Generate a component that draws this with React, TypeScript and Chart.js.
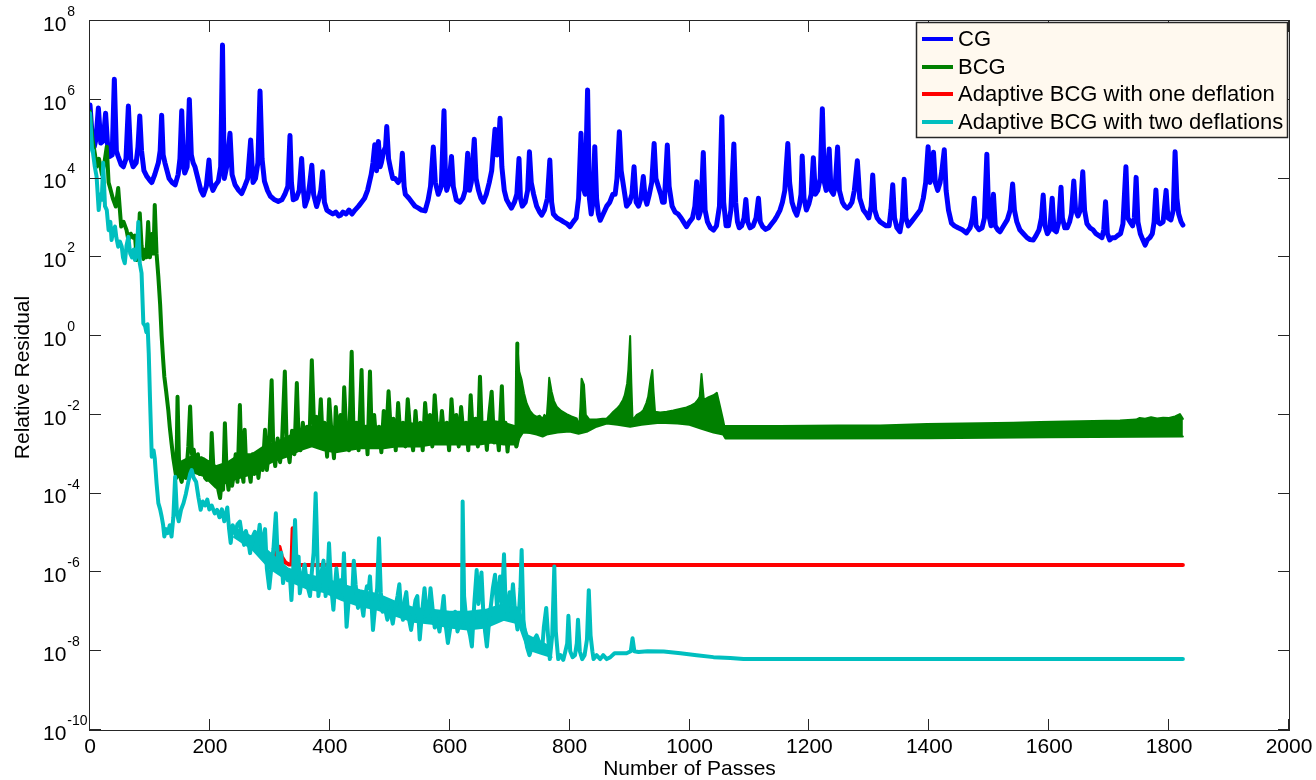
import { useEffect, useRef } from 'react';
import { Chart, registerables } from 'chart.js';
Chart.register(...registerables);

// [number of passes, log10(relative residual)]
const cgPoints: [number, number][] = [
  [0,5.87],[3,5.2],[7,4.8],[10,5.0],[14,5.79],[18,4.9],[22,4.95],[26,5.66],[30,4.7],[33,4.56],[37,4.6],[40.6,6.52],[44,4.7],[47,4.56],[52,4.35],[55.6,4.3],[60,4.5],[64,5.84],[68,4.5],[72,4.3],[77,4.4],[80,4.8],[83,5.59],[86,4.7],[90,4.2],[95,4.05],[100,3.95],[103,3.9],[108,4.1],[114,4.4],[117,4.7],[119.5,5.61],[122,4.6],[125,4.4],[132,4.0],[137,3.9],[142,3.84],[147,4.1],[150,4.5],[153,5.72],[156,4.3],[158,4.14],[162,4.3],[165.7,6.01],[169,4.6],[172,4.4],[175,4.3],[180,4.0],[185,3.7],[189,3.58],[194,3.8],[198.5,4.47],[201,3.9],[205,3.7],[210,3.85],[214,3.93],[218,4.3],[221,7.39],[224,4.0],[228,4.3],[233.5,5.15],[237,4.1],[242,3.84],[248,3.7],[253,3.62],[258,3.8],[263,4.0],[268,4.98],[272,3.9],[276,4.0],[280,4.4],[283.6,6.22],[287,4.5],[291,3.93],[296,3.7],[301,3.55],[308,3.46],[314,3.42],[320,3.46],[325,3.6],[330,3.8],[333.6,5.09],[336,3.9],[339,3.46],[344,3.5],[349,3.7],[353,4.51],[356,3.7],[358.5,3.3],[363,3.5],[366,3.8],[370,4.34],[373,3.6],[378,3.29],[382,3.5],[385,3.7],[388,4.17],[391,3.4],[395,3.2],[400,3.15],[405,3.1],[410,3.15],[415,3.05],[418,3.07],[422,3.15],[427,3.1],[432,3.2],[437,3.1],[442,3.2],[448,3.3],[453,3.4],[458,3.5],[463,3.7],[469,4.1],[472,4.4],[475,4.86],[478,4.2],[481,4.94],[484,4.3],[486,4.4],[490,4.7],[493,4.8],[495,5.32],[498,4.5],[502,4.2],[505,4.0],[509,4.0],[514,3.9],[518,4.0],[521,4.64],[524,3.8],[526,3.6],[532,3.5],[537,3.4],[542,3.3],[548,3.25],[553,3.2],[559,3.18],[564,3.46],[568,3.8],[572.7,4.8],[576,3.9],[581,3.6],[586,3.8],[590.5,5.72],[593,4.0],[595,3.7],[599,3.9],[603,4.56],[606,3.8],[611,3.46],[617,3.4],[622,3.5],[626,3.7],[630,4.64],[633,3.7],[636,3.9],[641,5.0],[644,4.0],[648,3.7],[652,3.5],[656,3.4],[661,3.6],[666,3.9],[670,4.2],[675.6,5.25],[679,4.6],[681,4.7],[684,5.53],[687,4.3],[691,3.7],[695,3.46],[699,3.35],[703,3.25],[708,3.4],[712,3.6],[715.6,4.51],[718,3.5],[721,3.3],[726,3.4],[730,3.7],[733,4.68],[736,3.9],[740,3.6],[745,3.3],[750,3.15],[753.5,3.07],[758,3.2],[763,3.5],[767,4.47],[770,3.4],[773,3.1],[779,3.0],[785,2.95],[790,2.9],[796,2.85],[800.7,2.78],[806,2.9],[811,3.0],[815,3.5],[819,5.15],[822,3.8],[826,3.6],[830,6.25],[833,3.5],[836,3.1],[839,3.4],[842,4.81],[845,3.5],[848,3.1],[851,2.94],[856,3.1],[862,3.3],[867,3.4],[872,3.6],[876,3.6],[879,4.0],[883,5.19],[886,4.2],[890,3.8],[895,3.3],[900,3.4],[904,3.6],[907.5,4.3],[911,3.4],[915,3.3],[919,3.5],[923,4.05],[926,3.5],[929,3.35],[933,3.6],[937,3.9],[941,4.89],[944,4.0],[948,3.8],[952,3.6],[955,3.4],[958,3.4],[963,4.85],[966,3.8],[971,3.3],[976,3.15],[981,3.1],[986,3.0],[990,2.9],[995,2.78],[1000,2.9],[1005,3.0],[1009,3.3],[1012,3.92],[1015,3.0],[1019,3.2],[1023,4.66],[1026,3.2],[1030,2.9],[1035,2.75],[1040,2.69],[1045,2.8],[1050,3.3],[1054,5.57],[1057,3.4],[1061,2.8],[1065,2.8],[1069,3.2],[1074,4.88],[1077,3.4],[1080,2.9],[1083,2.75],[1087,2.8],[1091,3.0],[1094,3.47],[1097,2.9],[1101,2.75],[1106,2.8],[1111,3.0],[1115,3.5],[1118,2.9],[1122,2.78],[1127,2.71],[1132,2.75],[1137,2.85],[1142,2.95],[1146,3.05],[1151,3.2],[1155,3.4],[1159,3.7],[1161,4.2],[1164,4.89],[1167,3.9],[1171,3.4],[1175,3.2],[1179,3.07],[1183,3.3],[1186,3.6],[1188,4.57],[1191,3.5],[1195,3.2],[1199,3.35],[1203,3.6],[1206.6,4.53],[1210,3.6],[1214,3.7],[1218,4.0],[1221.6,5.77],[1225,3.9],[1228,3.7],[1233,4.75],[1236,3.7],[1240,3.6],[1243,3.8],[1247,4.8],[1250,3.7],[1255,3.4],[1259,3.3],[1263,3.25],[1267,3.3],[1271,3.4],[1275,3.7],[1280,4.45],[1284,3.5],[1290,3.2],[1295,3.1],[1299,3.0],[1303,3.3],[1305.6,4.09],[1309,3.2],[1313,3.0],[1318,2.9],[1323,2.85],[1328,2.8],[1333,2.8],[1336,3.2],[1339,3.84],[1342,3.0],[1346,2.75],[1351,2.65],[1355,3.0],[1358,3.98],[1361,3.0],[1365,2.8],[1370,2.9],[1375,3.0],[1380,3.1],[1385,3.2],[1390,3.5],[1394,3.9],[1398,4.81],[1401,3.9],[1403,4.0],[1407,4.67],[1410,3.9],[1414,3.7],[1418,3.9],[1421,4.2],[1425,4.73],[1428,3.7],[1432,3.2],[1437,2.87],[1442,2.8],[1448,2.75],[1455,2.7],[1462,2.62],[1468,2.75],[1472,3.0],[1475,3.5],[1478,2.8],[1483,2.7],[1488,2.75],[1492,3.0],[1496,4.62],[1499,3.1],[1503,2.8],[1507,3.6],[1510,2.8],[1514,2.7],[1518,2.65],[1524,2.8],[1530,2.95],[1535,3.2],[1539,3.86],[1542,3.2],[1546,2.9],[1551,2.7],[1557,2.6],[1563,2.5],[1568,2.45],[1573.5,2.44],[1578,2.55],[1583,2.7],[1587,3.0],[1590,3.58],[1593,2.8],[1597,2.6],[1601,2.7],[1605,3.5],[1608,2.7],[1612,2.65],[1616,2.9],[1619.7,3.78],[1622,3.0],[1626,2.75],[1630,2.75],[1634,2.9],[1637,3.1],[1641,3.94],[1644,3.2],[1648,3.05],[1652,3.2],[1656,4.17],[1659,3.2],[1663,2.85],[1668,2.75],[1673,2.7],[1678,2.6],[1683,2.55],[1688,2.5],[1691,2.7],[1694,3.41],[1697,2.6],[1701,2.44],[1705,2.5],[1710,2.5],[1714,2.55],[1719,2.6],[1723,2.85],[1728,4.3],[1731,3.0],[1735,2.9],[1739,2.8],[1742,3.0],[1745,4.03],[1748,2.9],[1752,2.6],[1756,2.45],[1760,2.31],[1764,2.45],[1768,2.5],[1772,2.6],[1775,2.9],[1778,3.71],[1781,2.9],[1785,2.85],[1790,2.9],[1795,3.7],[1798,3.0],[1803,2.95],[1807,3.2],[1810,4.68],[1813,3.5],[1816,3.1],[1820,2.9],[1823,2.82]
];

const bcgPoints: [number, number][] = [
  [0,5.7],[4,5.0],[8,4.64],[11,4.3],[15,4.5],[20,4.1],[24,4.4],[28,4.81],[31,3.9],[33,3.79],[38,3.5],[43,3.29],[47,3.76],[52,2.78],[56,2.9],[61,2.69],[64,2.44],[68,2.6],[72,2.5],[75,2.55],[78,1.93],[81,2.4],[83,3.12],[86,2.3],[89,1.96],[92,2.2],[94,2.0],[97,2.9],[100,2.0],[104,2.6],[106,2.1],[108,3.33],[111,2.1],[114,1.51],[117,0.8],[119.5,0.0],[122,-0.6],[124,-1.03],[127,-1.4],[130.6,-1.88],[133,-2.3],[136,-2.72],[139,-3.1],[142,-3.4],[144,-3.6],
  [146,-1.54],[149,-3.5],[153,-3.7],[157,-3.2],[160,-3.6],[164,-2.8],[167,-1.79],[170,-3.0],[173,-2.88],[176,-3.3],[180,-3.0],[183,-3.5],[186,-3.1],[189,-3.3],[192,-3.6],[195,-3.65],[198,-3.2],[201,-3.5],[203,-2.46],[206,-3.4],[209,-3.7],[213,-3.82],[217,-4.11],[220,-3.6],[222,-3.9],[225,-2.21],[228,-3.5],[231,-3.9],[234,-3.3],[237,-3.8],[240,-3.5],[243,-3.0],[246,-3.7],[250,-1.75],[253,-3.4],[256,-3.7],[258,-2.38],[261,-3.5],[264,-3.3],[268,-3.7],[271,-3.0],[274,-3.5],[278,-3.2],[281,-3.6],[285,-3.0],[288,-3.4],[292,-2.38],[295,-3.4],[298,-3.0],[303,-1.12],[306,-3.0],[309,-3.3],[313,-2.6],[317,-3.2],[320,-2.8],[325,-0.9],[328,-2.7],[333,-3.2],[337,-2.4],[341,-3.0],[345,-1.19],[348,-2.6],[351,-2.9],[355,-2.2],[359,-2.8],[362,-2.3],[366,-2.7],[370,-0.61],[374,-2.4],[378,-2.05],[381,-2.7],[385,-1.6],[388,-2.6],[391,-2.2],[395.5,-3.06],[399,-1.6],[403,-2.5],[407,-3.1],[410,-1.8],[414,-2.6],[418,-2.0],[421,-2.8],[424,-1.3],[428,-2.6],[432,-2.9],[436.5,-0.4],[440,-2.7],[444,-2.2],[448,-2.9],[453,-0.86],[456,-2.7],[460,-2.3],[463,-3.0],[467,-0.9],[470,-2.6],[474,-2.0],[478,-2.8],[482,-2.3],[486,-2.95],[490,-1.9],[494,-2.6],[498,-1.4],[502,-2.5],[506,-2.1],[510,-2.9],[514,-1.7],[518,-2.6],[522,-2.2],[526,-2.8],[530,-1.6],[534,-2.4],[539,-2.9],[543,-1.9],[547,-2.7],[551,-2.2],[555,-2.9],[559,-1.7],[563,-2.5],[567,-2.0],[571,-2.8],[575,-1.5],[579,-2.4],[583,-2.7],[587,-1.9],[591,-2.6],[595,-2.2],[599,-2.9],[603,-1.6],[607,-2.5],[611,-2.0],[615,-2.8],[619,-1.8],[623,-2.5],[627,-2.2],[631,-2.9],[635,-1.5],[639,-2.6],[643,-2.1],[647,-2.8],[650.5,-1.03],[654,-2.6],[658,-2.2],[662,-2.89],[666,-2.0],[670,-1.41],[674,-2.7],[678,-2.3],[682,-2.9],[687,-1.27],[690,-2.6],[693,-2.2],[696.5,-2.93],[700,-2.3],[704,-2.7],[708,-2.4],[711,-2.8],[712.8,-0.19]
];

// dense noisy body of BCG between 150 and 712 passes: upper and lower envelope
const bcgNoiseTop: [number, number][] = [
  [150,-3.2],[170,-3.05],[190,-3.1],[210,-3.3],[230,-3.2],[250,-3.0],[270,-3.0],[290,-2.8],[310,-2.7],[330,-2.55],[350,-2.4],[370,-2.3],[390,-2.3],[410,-2.3],[430,-2.3],[450,-2.35],[470,-2.3],[490,-2.3],[510,-2.25],[530,-2.2],[550,-2.25],[570,-2.2],[590,-2.2],[610,-2.25],[630,-2.2],[650,-2.2],[670,-2.15],[690,-2.2],[712,-2.3]
];
const bcgNoiseBottom: [number, number][] = [
  [150,-3.6],[170,-3.45],[190,-3.55],[210,-3.85],[230,-3.7],[250,-3.6],[270,-3.5],[290,-3.3],[310,-3.15],[330,-3.05],[350,-2.9],[370,-2.8],[390,-2.9],[410,-2.95],[430,-2.9],[450,-2.85],[470,-2.85],[490,-2.85],[510,-2.8],[530,-2.8],[550,-2.8],[570,-2.75],[590,-2.75],[610,-2.75],[630,-2.75],[650,-2.75],[670,-2.7],[690,-2.75],[712,-2.75]
];

// dense oscillating part of BCG after 712 passes: upper and lower envelope
const bcgBandTop: [number, number][] = [
  [712.8,-0.19],[716,-0.9],[720,-1.11],[724,-1.45],[728.4,-1.71],[734,-1.9],[739.5,-2.0],[745,-2.05],[750,-2.02],[755,-2.1],[758,-2.0],[761.8,-2.08],[764,-1.6],[766,-1.06],[770,-1.41],[774,-1.65],[778.5,-1.79],[786,-1.9],[795,-1.98],[803,-2.04],[812,-2.09],[816,-2.3],[818,-1.8],[820,-1.08],[824,-1.24],[827,-2.0],[833,-2.12],[845,-2.12],[855,-2.1],[862,-2.09],[868,-2.0],[873,-1.92],[879,-1.84],[884,-1.75],[889,-1.62],[892,-1.5],[896,-1.2],[898,-0.86],[901,0.0],[903,-1.2],[905,-2.13],[912,-2.0],[918,-1.95],[923,-1.88],[928,-1.7],[931,-1.54],[935,-1.11],[938,-0.86],[940,-1.4],[942.5,-1.92],[951,-1.94],[962,-1.92],[973,-1.89],[984,-1.85],[995,-1.81],[1003,-1.76],[1009,-1.71],[1014,-1.62],[1017,-1.54],[1020,-0.96],[1022,-1.3],[1024,-1.62],[1032,-1.55],[1040,-1.5],[1045.6,-1.44],[1051,-1.79],[1056,-2.13],[1058,-2.28],[1150,-2.28],[1248,-2.27],[1318,-2.27],[1396,-2.23],[1484.6,-2.21],[1540,-2.2],[1585,-2.18],[1651,-2.16],[1718,-2.14],[1745,-2.12],[1751,-2.08],[1760,-2.1],[1770,-2.06],[1780,-2.09],[1790,-2.07],[1800,-2.08],[1810,-2.04],[1818,-1.98],[1823,-2.1]
];
const bcgBandBottom: [number, number][] = [
  [712.8,-2.8],[716,-2.6],[722,-2.45],[734,-2.46],[745,-2.5],[755,-2.55],[761.8,-2.5],[780,-2.45],[800,-2.42],[815,-2.48],[830,-2.42],[845,-2.3],[862,-2.22],[880,-2.25],[901,-2.3],[920,-2.25],[950,-2.2],[980,-2.22],[1000,-2.25],[1020,-2.35],[1040,-2.45],[1056,-2.5],[1060,-2.6],[1200,-2.6],[1400,-2.59],[1600,-2.57],[1823,-2.55]
];

const oneDeflationPoints: [number, number][] = [
  [295,-5.5],[299,-5.6],[303,-5.55],[306,-5.8],[310,-5.5],[313,-5.45],[316,-5.35],[320,-5.6],[326,-5.75],[332,-5.8],[336,-5.8],[338,-4.88],[340,-5.5],[342,-5.81],[1823,-5.81]
];

const twoDeflationsPoints: [number, number][] = [
  [0,5.66],[3.5,4.72],[5,4.65],[8,4.3],[11,4.05],[14.5,3.2],[17,3.6],[19.6,3.46],[22,4.4],[25,3.3],[28,3.2],[31,2.69],[34,2.9],[36,2.44],[39,2.7],[41.7,2.78],[44,2.5],[47,2.27],[50,2.4],[53,2.27],[55,2.0],[58,1.85],[61,2.3],[64,2.52],[67,2.1],[70,2.0],[73,2.2],[75,1.93],[78,2.1],[80.6,2.9],[83,1.85],[86,1.6],[89,0.32],[92,0.25],[94,0.1],[96,0.3],[98,-0.43],[100,-1.54],[103,-3.06],[106,-2.9],[108,-3.1],[111,-3.73],[114,-4.24],[117,-4.4],[119.5,-4.58],[122,-4.8],[124,-5.09],[127,-4.9],[130,-5.0],[133,-4.8],[136,-5.09],[139,-4.6],[142,-3.57],[145,-4.5],[148,-4.7],[152,-4.4],[156,-4.24],[160,-4.0],[164,-3.7],[167,-3.5],[169.6,-3.4],[173,-3.6],[177,-3.7],[181,-4.1],[184.6,-4.41],[188,-4.2],[192,-4.3],[195.7,-4.15],[199,-4.4],[203,-4.3],[208,-4.5],[212,-4.41],[216,-4.6],[220,-4.4],[224,-4.7],[229,-4.35],[232,-4.9],[234.7,-5.25],[238,-4.8],[242,-5.0],[246,-4.78],[250,-4.71],[254,-5.1],[257,-5.3],[260,-4.95],[264,-5.2],[267,-5.51],[271,-5.1],[275,-4.97],[279,-5.3],[283,-4.79],[287,-5.4],[292,-4.9],[295,-5.9],[299,-6.4],[303,-5.8],[306,-5.4],[310,-4.5],[313,-5.6],[316,-6.0],[319,-5.5],[322,-6.27],[326,-5.9],[330,-6.2],[333,-6.0],[336,-6.7],[339,-5.9],[342,-4.67],[345,-6.0],[348,-5.6],[350,-6.53],[354,-6.1],[358,-5.8],[362,-6.3],[367,-6.6],[370,-6.0],[373,-5.5],[376.4,-3.99],[378,-4.8],[381,-6.6],[385,-6.1],[389.5,-5.7],[393,-6.6],[396,-6.2],[398.7,-5.26],[402,-6.3],[406,-6.95],[409,-6.3],[411,-5.9],[415,-6.5],[418,-6.2],[421,-6.5],[423.6,-5.51],[426,-6.6],[428,-7.38],[431,-6.8],[434,-6.4],[437,-6.7],[440,-5.7],[443,-6.3],[447,-6.9],[451,-6.6],[456,-7.1],[459,-6.6],[462,-6.35],[465,-6.4],[467,-6.1],[470,-6.9],[472,-7.46],[476,-6.8],[479,-6.4],[482,-5.13],[485,-6.5],[488,-7.0],[492,-6.9],[496,-7.2],[500,-6.9],[505,-7.3],[509,-6.9],[513,-6.6],[516,-6.3],[519,-7.0],[522,-7.2],[525,-6.7],[527.6,-6.5],[531,-7.1],[535.6,-7.46],[539,-7.1],[543,-6.7],[546,-6.6],[550,-7.7],[554,-7.0],[558,-6.4],[562,-7.1],[565,-7.0],[568,-6.4],[572,-7.0],[575,-7.4],[579,-7.2],[583,-7.5],[587,-7.0],[590,-6.6],[593,-7.3],[597,-7.79],[601,-7.4],[605,-7.3],[609,-7.0],[613,-7.5],[617,-7.3],[620.5,-7.2],[621.6,-4.2],[624,-6.6],[627,-7.1],[631,-7.4],[634,-7.6],[637,-7.88],[641,-6.8],[645,-5.94],[648,-6.8],[650,-6.4],[653,-6.0],[656,-7.0],[659,-7.5],[662,-7.88],[666,-7.2],[669,-6.8],[672,-6.4],[675.6,-6.06],[679,-6.9],[681,-6.6],[684,-6.1],[687,-6.8],[690.6,-5.54],[693,-6.7],[696,-7.0],[700,-6.5],[703,-6.8],[705.5,-6.3],[709,-7.0],[713,-7.45],[716,-6.9],[718,-6.4],[720,-5.43],[723,-7.2],[726,-7.6],[729,-7.9],[733,-8.1],[737,-7.9],[741,-7.7],[745,-7.6],[750,-7.8],[754,-8.0],[757,-7.4],[761,-6.9],[764,-7.6],[767,-8.2],[771,-7.6],[774.5,-5.85],[777,-7.5],[781,-8.2],[785,-8.1],[789.5,-8.22],[793,-8.0],[796,-7.8],[798,-7.1],[801,-8.0],[805,-8.15],[809,-8.1],[812,-7.8],[814,-7.2],[817,-8.0],[821,-8.2],[825,-8.1],[829,-7.7],[832,-6.45],[835,-7.6],[838,-8.0],[840,-8.2],[845,-8.1],[851,-8.2],[856,-8.1],[862,-8.2],[868,-8.15],[875,-8.05],[885,-8.05],[895,-8.05],[902,-8.0],[905,-7.67],[908,-8.0],[915,-8.02],[930,-8.0],[957,-8.01],[985,-8.05],[1012,-8.1],[1040,-8.15],[1068,-8.17],[1090,-8.2],[1823,-8.2]
];

// dense noisy body of the two-deflation curve: upper and lower envelope
const twoDefNoiseTop: [number, number][] = [
  [240,-4.85],[270,-5.1],[300,-5.5],[330,-5.9],[360,-6.05],[390,-6.15],[420,-6.3],[450,-6.45],[480,-6.55],[510,-6.75],[540,-6.9],[570,-6.95],[600,-7.0],[630,-7.0],[660,-6.95],[690,-6.8],[715,-6.9],[730,-7.6],[750,-7.75],[770,-7.9]
];
const twoDefNoiseBottom: [number, number][] = [
  [240,-5.1],[270,-5.4],[300,-5.9],[330,-6.2],[360,-6.4],[390,-6.5],[420,-6.7],[450,-6.85],[480,-6.95],[510,-7.1],[540,-7.25],[570,-7.3],[600,-7.4],[630,-7.45],[660,-7.4],[690,-7.2],[715,-7.3],[730,-7.95],[750,-8.05],[770,-8.15]
];

const seriesNames = ['CG', 'BCG', 'Adaptive BCG with one deflation', 'Adaptive BCG with two deflations'];
const seriesColors = ['#0000FF', '#008000', '#FF0000', '#00BFBF'];
const xTickValues = [0, 200, 400, 600, 800, 1000, 1200, 1400, 1600, 1800, 2000];
const yTickExponents = [8, 6, 4, 2, 0, -2, -4, -6, -8, -10];
const xTitle = 'Number of Passes';
const yTitle = 'Relative Residual';

const FONT = '"Liberation Sans", Arial, Helvetica, sans-serif';

const toXY = (pts: [number, number][]) => pts.map(([x, e]) => ({ x, y: Math.pow(10, e) }));

const decorPlugin = {
  id: 'decor',
  afterDraw(chart: any) {
    const { ctx, chartArea: a, scales } = chart;
    const xs = scales.x;
    const ys = scales.y;
    ctx.save();
    ctx.strokeStyle = '#262626';
    ctx.lineWidth = 1;
    ctx.strokeRect(a.left - 0.5, a.top - 0.5, a.right - a.left + 1, a.bottom - a.top + 1);
    const TL = 11;
    ctx.beginPath();
    xTickValues.forEach((v) => {
      const px = Math.round(xs.getPixelForValue(v)) - 0.5;
      ctx.moveTo(px, a.bottom); ctx.lineTo(px, a.bottom - TL);
      ctx.moveTo(px, a.top); ctx.lineTo(px, a.top + TL);
    });
    yTickExponents.forEach((e) => {
      const py = Math.round(ys.getPixelForValue(Math.pow(10, e))) - 0.5;
      ctx.moveTo(a.left, py); ctx.lineTo(a.left + TL, py);
      ctx.moveTo(a.right, py); ctx.lineTo(a.right - TL, py);
    });
    ctx.stroke();

    ctx.fillStyle = '#000';
    ctx.font = `21px ${FONT}`;
    ctx.textAlign = 'center';
    ctx.textBaseline = 'middle';
    xTickValues.forEach((v) => {
      ctx.fillText(String(v), xs.getPixelForValue(v), a.bottom + 17);
    });
    yTickExponents.forEach((e) => {
      const py = ys.getPixelForValue(Math.pow(10, e));
      ctx.font = `21px ${FONT}`;
      ctx.textAlign = 'left';
      ctx.textBaseline = 'middle';
      ctx.fillText('10', 43, py + 4);
      const w = ctx.measureText('10').width;
      ctx.font = `14px ${FONT}`;
      ctx.fillText(String(e), 43 + w + 1, py - 9);
    });
    ctx.font = `21px ${FONT}`;
    ctx.textAlign = 'center';
    ctx.textBaseline = 'middle';
    ctx.fillText(xTitle, (a.left + a.right) / 2, 769);
    ctx.save();
    ctx.translate(23, (a.top + a.bottom) / 2 + 2);
    ctx.rotate(-Math.PI / 2);
    ctx.fillText(yTitle, 0, 0);
    ctx.restore();

    // legend
    const lx = 916, ly = 22, lw = 371, lh = 115;
    ctx.fillStyle = '#FFF9EF';
    ctx.fillRect(lx, ly, lw, lh);
    ctx.strokeStyle = '#262626';
    ctx.lineWidth = 1.5;
    ctx.strokeRect(lx + 0.5, ly + 0.5, lw, lh);
    const rows = [39, 67, 94, 122];
    seriesNames.forEach((name, i) => {
      ctx.strokeStyle = seriesColors[i];
      ctx.lineWidth = 4;
      ctx.beginPath();
      ctx.moveTo(922, rows[i]);
      ctx.lineTo(953, rows[i]);
      ctx.stroke();
      ctx.fillStyle = '#000';
      ctx.font = `22px ${FONT}`;
      ctx.textAlign = 'left';
      ctx.textBaseline = 'middle';
      ctx.fillText(name, 958, rows[i] + 1);
    });
    ctx.restore();
  },
};

export default function App() {
  const ref = useRef<HTMLCanvasElement>(null);
  useEffect(() => {
    const lineBase = {
      pointRadius: 0,
      borderWidth: 4,
      tension: 0,
      fill: false,
      borderJoinStyle: 'round' as const,
      borderCapStyle: 'round' as const,
    };
    const band = (label: string, pts: [number, number][], color: string, order: number, fillNext: boolean) => ({
      ...lineBase,
      label,
      data: toXY(pts),
      borderColor: color,
      backgroundColor: color,
      borderWidth: 2,
      fill: fillNext ? '+1' : false,
      order,
    });
    const chart = new Chart(ref.current as HTMLCanvasElement, {
      type: 'line',
      data: {
        datasets: [
          { ...lineBase, label: seriesNames[0], data: toXY(cgPoints), borderColor: seriesColors[0], borderWidth: 5, order: 5 },
          { ...lineBase, label: seriesNames[1], data: toXY(bcgPoints), borderColor: seriesColors[1], order: 4 },
          band('BCG noise top', bcgNoiseTop, seriesColors[1], 4, true),
          band('BCG noise bottom', bcgNoiseBottom, seriesColors[1], 4, false),
          band('BCG band top', bcgBandTop, seriesColors[1], 4, true),
          band('BCG band bottom', bcgBandBottom, seriesColors[1], 4, false),
          { ...lineBase, label: seriesNames[2], data: toXY(oneDeflationPoints), borderColor: seriesColors[2], order: 2 },
          { ...lineBase, label: seriesNames[3], data: toXY(twoDeflationsPoints), borderColor: seriesColors[3], order: 1 },
          band('two deflations noise top', twoDefNoiseTop, seriesColors[3], 1, true),
          band('two deflations noise bottom', twoDefNoiseBottom, seriesColors[3], 1, false),
        ],
      },
      options: {
        responsive: false,
        maintainAspectRatio: false,
        animation: false,
        devicePixelRatio: 1,
        events: [],
        layout: { padding: { top: 21, right: 27, left: 0, bottom: 0 } },
        plugins: { legend: { display: false }, tooltip: { enabled: false }, title: { display: false } },
        scales: {
          x: {
            type: 'linear',
            min: 0,
            max: 2000,
            grid: { display: false },
            border: { display: false },
            ticks: { display: false },
            afterFit: (s: any) => { s.height = 50; },
          },
          y: {
            type: 'logarithmic',
            min: 1e-10,
            max: 1e8,
            grid: { display: false },
            border: { display: false },
            ticks: { display: false },
            afterBuildTicks: (s: any) => { s.ticks = yTickExponents.map((e) => ({ value: Math.pow(10, e) })); },
            afterFit: (s: any) => { s.width = 90; },
          },
        },
      } as any,
      plugins: [decorPlugin],
    });
    return () => chart.destroy();
  }, []);
  return (
    <div style={{ position: 'fixed', left: 0, top: 0, width: 1316, height: 780, background: '#fff' }}>
      <canvas ref={ref} width={1316} height={780} style={{ display: 'block', width: 1316, height: 780 }} />
    </div>
  );
}
